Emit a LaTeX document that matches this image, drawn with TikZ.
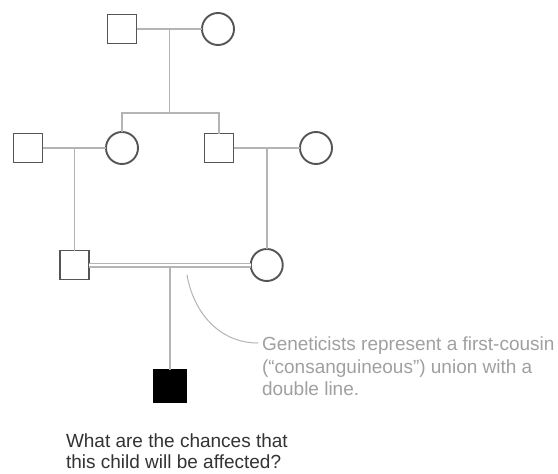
\documentclass[tikz,border=0pt]{standalone}
\usepackage{fontspec}
\setmainfont{Liberation Sans}
\usepackage{tikz}
\usetikzlibrary{positioning}
\usetikzlibrary{calc}

\definecolor{shapegray}{HTML}{555555}
\definecolor{linegray}{HTML}{B4B4B4}
\definecolor{notegray}{HTML}{A0A0A0}
\definecolor{askgray}{HTML}{333333}

\begin{document}
\begin{tikzpicture} [x=1pt,y=-1pt,every node/.style={outer sep=0pt,line width=1.9pt},]

\tikzstyle{male}=[draw=shapegray,rectangle,minimum size=29pt,inner sep=0pt]
\tikzstyle{female}=[draw=shapegray,circle,minimum size=32pt,inner sep=0pt]
\tikzstyle{affected}=[fill=black,draw=black,rectangle,minimum size=32pt,inner sep=0pt]
\tikzstyle{tie}=[draw=linegray,line width=1.5pt]
\tikzstyle{consang}=[draw=linegray,line width=1.2pt,double=white,double distance=2.6pt]
\tikzstyle{textline}=[draw=none,inner sep=0pt,align=left,anchor=north west]

\useasboundingbox (0,0) rectangle (558,474);
\fill[white] (0,0) rectangle (558,474);

\begin{scope}[]
% first generation
\node (grandpa) [male] at (122,29) {};
\node (grandma) [female] at (218,29) {};
\draw [tie] (grandpa) -- (grandma);
\coordinate (union1) at ($(grandpa.east)!0.5!(grandma.west)$);
\coordinate (sibs) at (union1 |- 0,113);
\draw [tie] (union1) -- (sibs);

% second generation
\node (inlawL) [male] at (28,148) {};
\node (daughter) [female] at (122,148) {};
\node (son) [male] at (219,148) {};
\node (inlawR) [female] at (316,148) {};
\draw [tie] (daughter.north) |- (sibs) -| (son.north);
\draw [tie] (inlawL) -- (daughter);
\draw [tie] (son) -- (inlawR);
\coordinate (union2) at ($(inlawL.east)!0.5!(daughter.west)$);
\coordinate (union3) at ($(son.east)!0.5!(inlawR.west)$);

% cousins
\node (cousinM) [male] at (union2 |- 0,265) {};
\node (cousinF) [female] at (union3 |- 0,265) {};
\draw [tie] (union2) -- (cousinM.north);
\draw [tie] (union3) -- (cousinF.north);
\draw [consang] (cousinM) -- (cousinF);
\coordinate (union4) at ($(cousinM.east)!0.5!(cousinF.west)$);

% child
\node (child) [affected] at (union4 |- 0,386) {};
\draw [tie] (union4) ++(0,2) -- (child.north);
\end{scope}

\node (note) [textline,text=notegray,font=\fontsize{19}{22.5}\selectfont] at (262,337) {Geneticists represent a first-cousin\\(“consanguineous”) union with a\\double line.};
\coordinate (tip) at (187,275);
\draw [draw=linegray,line width=1pt,line cap=round] ($(note.north west)+(-4,6)$) to[out=180,in=-80] (tip);

\node (question) [textline,text=askgray,font=\fontsize{19}{20.5}\selectfont] at (66,434) {What are the chances that\\this child will be affected?};

%\draw[step=20pt,gray,very thin] (0,0) grid (558,474);

\end{tikzpicture}
\end{document}
